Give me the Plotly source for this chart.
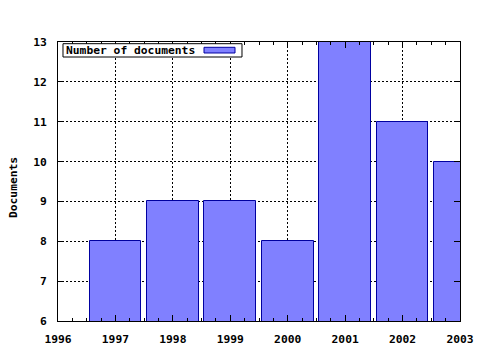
import plotly.graph_objects as go

years = [1997, 1998, 1999, 2000, 2001, 2002, 2003]
documents = [8, 9, 9, 8, 13, 11, 10]
series_name = "Number of documents"
y_title = "Documents"

FONT = dict(family="DejaVu Sans Mono", size=11.3, color="black", weight="bold")
FILL = "#8080ff"
EDGE = "#0000a0"

fig = go.Figure()
fig.add_trace(go.Bar(
    x=years, y=documents, width=0.9, name=series_name,
    marker=dict(color=FILL, line=dict(color=EDGE, width=1)),
    showlegend=False,
))

axis_common = dict(
    showline=True, linecolor="black", linewidth=1, mirror="allticks",
    ticks="inside", ticklen=6, tickcolor="black", tickwidth=1,
    showgrid=True, gridcolor="black", griddash="2px,2px", gridwidth=1,
    zeroline=False, tickfont=FONT, automargin=False,
)

fig.update_xaxes(range=[1996, 2003], dtick=1, tick0=1996, ticklabelstandoff=7,
                 minor=dict(ticks="inside", ticklen=3, dtick=0.25, tickcolor="black", showgrid=False),
                 **axis_common)
fig.update_yaxes(range=[6, 13], dtick=1, tick0=6, ticklabelstandoff=8, **axis_common)

# Custom legend (text left, swatch right, boxed) like gnuplot
fig.add_shape(type="rect", xref="paper", yref="paper",
              x0=0.0124, x1=0.4577, y0=0.9462, y1=0.9939,
              line=dict(color="black", width=1), fillcolor="white", layer="above")
fig.add_shape(type="rect", xref="paper", yref="paper",
              x0=0.3632, x1=0.4403, y0=0.9606, y1=0.981,
              line=dict(color=EDGE, width=1), fillcolor=FILL, layer="above")
fig.add_annotation(text=series_name, xref="paper", yref="paper",
                   x=0.014, y=0.970, xanchor="left", yanchor="middle",
                   showarrow=False, font=FONT)

fig.add_annotation(text=y_title, xref="paper", yref="paper",
                   x=-0.112, y=0.48, xanchor="center", yanchor="middle",
                   textangle=-90, showarrow=False, font=FONT)

fig.update_layout(
    width=480, height=350,
    margin=dict(l=58, r=20, t=42, b=29, autoexpand=False),
    paper_bgcolor="white", plot_bgcolor="white",
    bargap=0, font=FONT,
)

fig.write_html("out.html")
